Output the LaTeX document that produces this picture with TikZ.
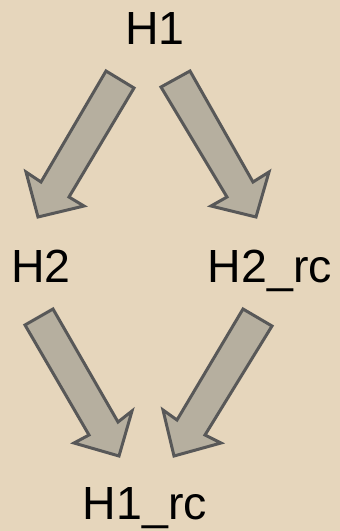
\documentclass[tikz,border=0pt]{standalone}
\usepackage{fontspec}
\setmainfont{Liberation Sans}
\definecolor{bg}{HTML}{E6D6BC}
\definecolor{arrfill}{HTML}{B6AF9F}
\definecolor{arrline}{HTML}{585858}
\tikzset{
  lbl/.style={anchor=base, inner sep=0pt, font=\fontsize{46.5}{52}\selectfont, text=black},
  blockarrow/.style={fill=arrfill, draw=arrline, line width=3pt, line join=miter}
}
\begin{document}
\begin{tikzpicture}[x=1pt,y=-1pt]
\fill[bg] (0,0) rectangle (340,531);
\useasboundingbox (0,0) rectangle (340,531);
\node[lbl] (h1) at (155,44) {H1};
\node[lbl] (h2) at (41,282) {H2};
\node[lbl] (h2rc) at (270,282) {H2\_rc};
\node[lbl] (h1rc) at (145,519) {H1\_rc};
% H1 -> H2
\draw[blockarrow] (106,71) -- (41,182) -- (26,172) -- (38,217) -- (84,206) -- (69,197) -- (134,88) -- cycle;
% H1 -> H2_rc
\draw[blockarrow] (190,71) -- (253,182) -- (269,172) -- (256,217) -- (211,206) -- (227,197) -- (161,87) -- cycle;
% H2 -> H1_rc
\draw[blockarrow] (53,309) -- (118,422) -- (132,411) -- (119,456) -- (74,443) -- (89,435) -- (25,325) -- cycle;
% H2_rc -> H1_rc
\draw[blockarrow] (243,309) -- (177,420) -- (163,410) -- (174,456) -- (221,443) -- (205,435) -- (272,326) -- cycle;
\end{tikzpicture}
\end{document}
